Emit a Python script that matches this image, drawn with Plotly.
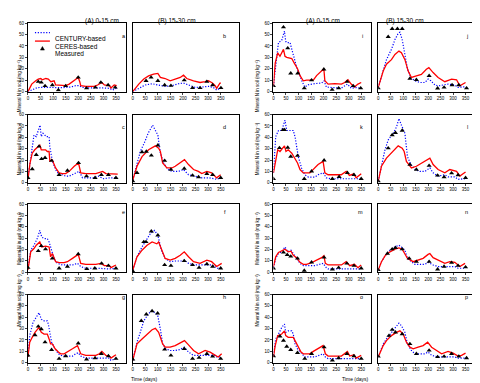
import plotly.graph_objects as go

W, H = 480, 383

# ---------------- data (day, mineral N mg/kg) ----------------
ceres_a = [(0,0),(15,6.6),(31,9.5),(41,11),(51,11.5),(57,10.4),(71,11.5),(81,11),(91,8.7),(104,9.5),(110,5.8),(130,5.2),(150,5.2),(164,6.6),(184,9.5),(200,12.4),(206,8.7),(210,5.2),(230,4.6),(264,4.6),(277,5.8),(294,8),(304,5.8),(324,5.2),(330,3.2),(343,5.8),(353,5.2)]
century_a = [(0,0),(17,1.7),(37,3.5),(57,3.7),(84,3.5),(110,3.7),(137,3.5),(170,4),(190,5.2),(204,5.2),(217,3.7),(244,3.2),(270,3.5),(297,3.2),(324,2.9),(337,1.4),(353,3.2)]
meas_a = [(41,8.7),(53,8),(68,5),(97,5.8),(121,1.4),(150,5),(200,12.4),(233,3),(268,3.7),(290,8),(319,5.8),(347,3.7)]

ceres_b = [(0,0),(24,6.6),(44,11),(63,13.8),(83,15.3),(100,15.9),(110,12.4),(129,11.5),(149,9.5),(169,11),(189,12.4),(202,14.4),(215,11.5),(242,9.5),(268,8),(288,8.7),(301,9.5),(317,7.5),(328,5.2),(334,2.9),(347,7.5),(351,7.5)]
century_b = [(0,0),(30,3.7),(50,5.8),(77,6.9),(103,5.8),(129,4.6),(156,5.2),(182,6.9),(202,7.5),(222,5.8),(248,3.7),(275,4),(301,4.6),(321,3.7),(334,1.4),(350,3.2)]
meas_b = [(53,9.5),(73,12.4),(100,9.5),(127,5.8),(152,5.2),(205,10),(238,3.2),(268,3.2),(295,8.7),(318,5.8),(351,3.2)]

ceres_c = [(0,3),(8,17),(17,26),(27,29),(47,33),(53,29),(70,29),(77,27.5),(84,27.5),(87,19),(97,20),(110,13),(124,8.7),(137,8),(150,8),(164,10),(184,14.5),(201,17.4),(210,8.7),(230,8),(270,8),(297,10),(310,8),(323,8),(357,7.5)]
century_c = [(0,4.3),(15,26),(24,42),(33,40.6),(48,50.7),(53,40.6),(60,43.5),(73,40.6),(84,40.6),(87,32),(97,19),(110,11.6),(124,7),(137,7),(150,5.8),(164,5.8),(190,8.7),(204,10),(217,4.3),(260,4.3),(280,5.8),(300,3.5),(324,4.3),(355,4.3)]
meas_c = [(0,4.3),(17,12),(33,24.6),(44,32),(54,21),(68,22),(94,19.4),(124,7),(157,10.7),(201,17.4),(233,5.8),(267,4.3),(292,7),(320,7),(350,4.3)]

ceres_d = [(0,2.3),(17,14.5),(37,23),(63,29),(90,32.5),(103,30.4),(110,27.5),(119,17.4),(136,13),(156,13),(169,14.5),(189,17.4),(206,20.3),(222,16),(242,11.6),(261,10),(275,8),(295,10),(314,8.7),(334,4.3),(350,7)]
century_d = [(0,2.3),(17,16),(30,27.5),(48,36),(61,43.5),(79,50.7),(92,46),(100,42),(110,26),(123,17.4),(140,11.6),(156,10),(182,10),(202,11.6),(222,7),(248,5.8),(275,4.3),(305,4.3),(334,3),(350,4.3)]
meas_d = [(0,1.5),(17,8.7),(37,27),(54,27.5),(74,24),(100,33),(127,19.4),(152,11.6),(205,12.5),(238,6.4),(262,5),(295,7.8),(318,7),(350,4.3)]

ceres_e = [(0,2),(11,18),(24,20.9),(33,23.8),(47,26.7),(55,22.3),(70,23),(84,22.3),(90,13.6),(97,16.5),(110,9.3),(124,8.4),(144,8.4),(157,9.3),(177,12.2),(200,15.7),(210,7.8),(230,7),(270,7),(290,7.8),(304,5.8),(324,5.8),(330,4),(350,6.4)]
century_e = [(0,3.5),(11,19.4),(24,23.8),(37,29.6),(47,36.8),(55,31),(64,29.6),(77,29.6),(84,26.7),(93,19.4),(104,12),(117,7.8),(137,6.4),(177,6.4),(197,7.8),(210,5),(230,3.5),(280,3.5),(320,2.9),(355,3.5)]
meas_e = [(0,4),(41,18.8),(53,23.2),(70,20.3),(97,12.2),(124,3.5),(157,5),(200,16),(234,2.9),(266,3.5),(293,7.8),(320,5.8),(350,3.5)]

ceres_f = [(0,2),(17,13.6),(37,19.4),(57,23.8),(77,26.7),(96,25),(103,26.7),(116,19.4),(129,12.2),(149,10.7),(169,12.2),(189,15),(205,18),(222,13.6),(242,9.3),(268,7.8),(295,10.7),(314,9.3),(334,5),(354,7.8)]
century_f = [(0,2),(17,13.6),(37,22.3),(53,28),(70,34),(87,36.8),(100,32.5),(114,19.4),(129,12.2),(149,9.3),(169,9.9),(195,9.9),(205,10.7),(222,7.8),(248,6.4),(316,6.4),(338,3.5),(354,4)]
meas_f = [(0,1),(44,26.7),(53,26.7),(74,36),(100,32.5),(127,6.4),(152,5.8),(205,9.9),(238,6.4),(264,4),(295,7.2),(318,5),(350,3.5)]

ceres_g = [(0,5),(7,18),(17,22.3),(28,26.7),(44,31),(53,26.7),(64,25.2),(77,25.2),(84,20.9),(90,16.5),(97,16.5),(108,12.2),(121,9.3),(130,7.8),(144,7.8),(157,9.3),(177,12.2),(197,15),(210,7.8),(230,6.4),(270,6.4),(284,7.8),(294,9.9),(310,6.4),(324,5.8),(330,4),(350,7)]
century_g = [(0,5),(7,23.8),(20,35.4),(28,38.3),(44,44),(53,38.3),(64,36.8),(77,36.8),(81,34),(87,26.7),(94,18),(108,12.2),(121,7.8),(137,5.8),(177,5.8),(190,7.8),(200,8.7),(210,5.8),(230,4),(324,4),(330,2),(350,3.5)]
meas_g = [(0,6.4),(28,24.3),(41,31.9),(53,29.6),(68,18),(94,11.3),(124,3.5),(150,5.8),(200,17),(233,2.9),(267,4),(292,7.8),(320,5.8),(350,3.5)]

ceres_h = [(0,2),(17,16.5),(37,20.9),(57,25.2),(77,29),(90,30.2),(103,26.7),(110,22.3),(119,16.5),(129,13.6),(149,13.6),(169,15),(189,17.4),(206,19.4),(222,15.7),(242,10.7),(262,7.8),(288,10.7),(308,9.3),(328,6.4),(340,5),(354,7.8)]
century_h = [(0,2),(17,18),(30,26.7),(44,36.8),(61,42.6),(74,45.5),(90,44),(100,41),(110,29.5),(119,16.5),(132,12.2),(149,10.7),(169,10.7),(189,11.6),(205,13.6),(222,9.3),(242,6.4),(327,6.4),(334,5),(354,5)]
meas_h = [(0,2.9),(34,36.8),(54,42.6),(77,45.5),(99,43.5),(127,11.6),(152,6.4),(205,12.2),(238,3.5),(264,4.4),(295,7.8),(318,5.5),(350,3.5)]

ceres_i = [(0,5),(7,25),(17,34),(26,31),(40,37),(46,31),(53,30),(73,29),(83,25),(96,20),(106,14),(119,9.5),(132,10),(159,10),(172,14),(192,18),(201,20),(205,9.5),(218,6.6),(245,7),(271,6.6),(284,8),(297,10.4),(310,6.6),(323,4),(337,6.6),(350,8)]
century_i = [(0,5),(20,43),(33,45),(44,53),(49,44),(53,43),(66,43),(73,37),(83,27),(93,21),(99,18),(112,10),(125,4),(139,6),(165,7),(192,7.5),(202,9.5),(211,4),(240,3.5),(270,3),(295,6.6),(310,3),(330,3.5),(350,3)]
meas_i = [(0,5),(40,56.5),(57,38),(69,16),(97,16),(123,3),(152,10),(201,19.6),(234,1.7),(260,3),(294,8.7),(318,5),(348,3)]

ceres_j = [(0,3.7),(20,18),(33,24),(53,28),(67,32.6),(83,35.5),(93,34),(107,28),(120,18),(133,12.4),(153,13.8),(173,15),(193,19.6),(203,21),(220,16.7),(240,12.4),(267,8.7),(294,11),(314,10.4),(327,5),(350,8)]
century_j = [(0,3.7),(20,18),(33,28),(53,37),(67,45.6),(80,51),(87,52),(96,45.6),(107,31),(117,20),(131,12.4),(147,9.5),(167,8),(187,8),(200,11),(211,9.5),(227,5.8),(240,5),(280,6.6),(307,5.8),(320,3.7),(348,4.3)]
meas_j = [(0,3),(40,48),(56,55),(77,55),(96,55),(127,11.5),(153,10.4),(204,13.8),(238,2.9),(264,3.7),(296,5.8),(323,5.8),(354,3)]

ceres_k = [(0,8.7),(7,16),(17,29),(26,27.5),(44,32.5),(50,27.5),(59,29),(73,26),(86,21.7),(96,17.4),(106,11.6),(119,8.7),(145,8.7),(159,11.6),(178,16),(198,18.8),(205,8.7),(218,7),(270,7),(290,10),(303,6.4),(320,7.8),(330,4.3),(350,8)]
century_k = [(0,8.7),(9,40.6),(20,46),(33,46),(46,55),(53,46),(79,46),(86,40.6),(99,23),(112,13),(125,7),(139,5),(165,5),(178,7),(198,8.7),(211,4.3),(230,3.5),(300,3.5),(350,3.5)]
meas_k = [(0,3.5),(24,30.7),(38,46.5),(44,46.5),(57,31),(69,23),(96,23.8),(123,3.5),(152,10),(202,19.7),(235,3.5),(262,5.2),(295,8.7),(321,7),(350,3.5)]

ceres_l = [(0,1.5),(13,14.5),(33,21.7),(53,26),(67,29),(80,32.5),(96,30.4),(104,27.5),(113,18.8),(133,13),(153,14.5),(173,17.4),(193,20.3),(207,21.7),(220,16),(240,11.6),(267,8.7),(287,11.6),(314,10),(327,5.8),(350,9.5)]
century_l = [(0,1.5),(13,16),(27,29),(40,37.7),(60,43.5),(73,49),(83,56.5),(93,50.7),(107,43.5),(117,23),(131,16),(147,11.6),(167,10),(187,10),(207,13),(220,8.7),(240,5.8),(267,7),(280,5.2),(307,5.2),(320,3),(348,3.5)]
meas_l = [(0,1.5),(40,30.4),(56,42),(69,44),(96,46),(127,16),(153,11.6),(204,15),(238,6.4),(264,5),(294,8.4),(320,6.7),(350,4.3)]

ceres_m = [(0,5),(9,13.6),(20,17.4),(33,18.5),(46,20.3),(59,18),(70,18.5),(79,15),(92,12.8),(106,8.7),(119,7),(132,7),(152,8.4),(172,10.7),(192,12.8),(201,14.5),(207,7.8),(218,6.4),(271,6.4),(290,9.3),(304,5.8),(323,7),(337,4),(350,6.4)]
century_m = [(0,4),(9,12.2),(20,16.5),(33,18),(46,22.3),(57,18),(70,19.4),(79,16.5),(92,12.2),(106,7.8),(119,5.8),(165,5.8),(185,7),(198,7.8),(211,4),(218,2.9),(350,2.9)]
meas_m = [(0,3.5),(40,17.4),(55,15.4),(69,13.9),(96,12.2),(123,1.5),(152,8.7),(202,13),(235,2.6),(260,4),(293,7.8),(321,5.8),(350,3.5)]

ceres_n = [(0,2),(13,9.3),(29,15),(47,18),(67,20.3),(83,21.5),(96,20.3),(107,16.5),(117,12.2),(140,9.3),(160,10.7),(180,12.2),(200,15.7),(207,16.5),(220,12.8),(247,9.9),(267,7.8),(287,9.3),(307,8.7),(327,5),(348,7.8)]
century_n = [(0,2),(13,9.3),(29,15),(47,19.4),(67,22.3),(83,23.8),(93,22.3),(107,19.4),(117,12.2),(133,9.3),(147,7),(187,7),(200,8.7),(220,6.4),(240,5),(307,5),(320,3.5),(348,3.5)]
meas_n = [(0,2),(37,16.5),(56,20.3),(69,21.5),(96,20.3),(124,12.2),(153,9.3),(204,9.3),(238,2.6),(264,5),(294,8.4),(320,5.8),(350,4.4)]

ceres_o = [(0,5),(7,15),(17,23.8),(33,25.2),(44,28),(49,23.8),(59,22.3),(79,22.3),(86,19.4),(96,15),(110,9.3),(119,7.8),(145,7.8),(159,9.9),(181,12.8),(198,15),(207,7.8),(218,5.8),(271,5.8),(284,7.8),(295,9.9),(304,5.8),(321,7),(330,4),(350,6.4)]
century_o = [(0,6.4),(9,20.9),(17,23.8),(33,31),(44,34),(49,26.7),(59,28),(73,28),(79,25.2),(86,16.5),(96,12.2),(112,7.8),(125,5),(165,5),(185,6.4),(198,7.8),(207,5),(218,3.5),(350,3.5)]
meas_o = [(0,5.8),(26,23.2),(40,19.4),(53,14.2),(69,11.3),(96,8.7),(125,3.5),(152,7.8),(202,13.6),(235,2),(260,4),(293,7.8),(321,5.8),(350,3.5)]

ceres_p = [(0,5),(20,15),(33,19.4),(53,23.8),(73,26.7),(87,28),(100,25.2),(113,18),(127,13.6),(140,12.2),(160,13.6),(180,15),(198,18),(214,13.6),(234,10.7),(254,7.8),(280,9.9),(300,8.4),(320,5.8),(334,6.4),(350,8.4)]
century_p = [(0,5),(20,16.5),(33,20.9),(53,26.7),(73,32.5),(83,34.8),(93,32.5),(107,26.7),(117,16.5),(133,10.7),(147,7.8),(187,7.8),(200,9.3),(214,6.4),(240,5),(307,5),(320,4),(348,4)]
meas_p = [(0,5.5),(43,23.8),(56,29),(69,26.7),(96,25.2),(127,16.5),(153,7.8),(204,10.7),(238,5),(264,5.5),(294,7.8),(323,5.5),(354,4)]

x_ticks = [0, 50, 100, 150, 200, 250, 300, 350]
y_ticks = [0, 10, 20, 30, 40, 50, 60]
group_titles = ["(A) 0-15 cm", "(B) 15-30 cm"]
y_title = "Mineral N in soil (mg kg\u207b\u00b9)"
x_title = "Time (days)"
series_names = ["CENTURY-based", "CERES-based", "Measured"]

# ---------------- layout geometry (pixels) ----------------
cols = [(19, 117.5, 391), (124, 230.5, 423), (265, 363, 390), (370, 468, 392)]
rows = [(13.3, 82.7), (106, 175), (196.7, 265.7), (288.3, 357.3)]

panel_data = {
    'a': (ceres_a, century_a, meas_a), 'b': (ceres_b, century_b, meas_b),
    'c': (ceres_c, century_c, meas_c), 'd': (ceres_d, century_d, meas_d),
    'e': (ceres_e, century_e, meas_e), 'f': (ceres_f, century_f, meas_f),
    'g': (ceres_g, century_g, meas_g), 'h': (ceres_h, century_h, meas_h),
    'i': (ceres_i, century_i, meas_i), 'j': (ceres_j, century_j, meas_j),
    'k': (ceres_k, century_k, meas_k), 'l': (ceres_l, century_l, meas_l),
    'm': (ceres_m, century_m, meas_m), 'n': (ceres_n, century_n, meas_n),
    'o': (ceres_o, century_o, meas_o), 'p': (ceres_p, century_p, meas_p),
}
grid = [['a', 'b', 'i', 'j'], ['c', 'd', 'k', 'l'], ['e', 'f', 'm', 'n'], ['g', 'h', 'o', 'p']]

FONT = "Arial, Liberation Sans, DejaVu Sans, sans-serif"
DOT = "1.2px,1.6px"
fig = go.Figure()
layout = dict(width=W, height=H, margin=dict(l=0, r=0, t=0, b=0),
              paper_bgcolor="white", plot_bgcolor="white", showlegend=False,
              font=dict(family=FONT, color="black"))
annotations = []
shapes = []

k = 0
for r, rowl in enumerate(grid):
    for c, letter in enumerate(rowl):
        k += 1
        x0, x1, xmax = cols[c]
        ytop, ybot = rows[r]
        xa = f"x{k}" if k > 1 else "x"
        ya = f"y{k}" if k > 1 else "y"
        xkey = f"xaxis{k}" if k > 1 else "xaxis"
        ykey = f"yaxis{k}" if k > 1 else "yaxis"
        show_y = c in (0, 2)
        layout[xkey] = dict(domain=[x0 / W, x1 / W], range=[0, xmax], anchor=ya,
                            tickvals=x_ticks, ticks="outside", ticklen=2, tickwidth=0.8,
                            tickfont=dict(size=4.5, family=FONT), showline=True, mirror=True,
                            linecolor="black", linewidth=1, showgrid=False, zeroline=False)
        layout[ykey] = dict(domain=[1 - ybot / H, 1 - ytop / H], range=[0, 60], anchor=xa,
                            tickvals=y_ticks, ticks="outside" if show_y else "", ticklen=2,
                            tickwidth=0.8, showticklabels=show_y,
                            tickfont=dict(size=4.5, family=FONT), showline=True, mirror=True,
                            linecolor="black", linewidth=1, showgrid=False, zeroline=False)
        ceres, century, meas = panel_data[letter]
        fig.add_trace(go.Scatter(x=[p[0] for p in century], y=[p[1] for p in century],
                                 mode="lines", line=dict(color="#0000ff", width=1.2, dash=DOT),
                                 xaxis=xa, yaxis=ya, name=series_names[0]))
        fig.add_trace(go.Scatter(x=[p[0] for p in ceres], y=[p[1] for p in ceres],
                                 mode="lines", line=dict(color="#ff0000", width=1.3),
                                 xaxis=xa, yaxis=ya, name=series_names[1]))
        fig.add_trace(go.Scatter(x=[p[0] for p in meas], y=[p[1] for p in meas],
                                 mode="markers", marker=dict(symbol="triangle-up", size=4.5, color="black"),
                                 xaxis=xa, yaxis=ya, name=series_names[2]))
        # panel letter, top-right inside the frame
        lx = (x0 + 366 / xmax * (x1 - x0)) / W
        ly = 1 - (ytop + 7.5) / H
        annotations.append(dict(x=lx, y=ly, xref="paper", yref="paper", text=letter, showarrow=False,
                                font=dict(size=5.5, family=FONT)))

# y-axis titles for each row (both groups)
for r, (ytop, ybot) in enumerate(rows):
    yc = 1 - (ytop + ybot) / 2 / H
    for xp in (6, 249):
        annotations.append(dict(x=xp / W, y=yc, xref="paper", yref="paper", text=y_title,
                                textangle=-90, showarrow=False, font=dict(size=4.5, family=FONT)))

# group/column titles
for xc, t in [(74.5, group_titles[0]), (168, group_titles[1]), (315, group_titles[0]), (418, group_titles[1])]:
    annotations.append(dict(x=xc / W, y=1 - 5.5 / H, xref="paper", yref="paper", text=t,
                            showarrow=False, font=dict(size=6.5, family=FONT)))

# x-axis titles
for xc in (120, 363):
    annotations.append(dict(x=xc / W, y=1 - 379 / H, xref="paper", yref="paper", text=x_title,
                            showarrow=False, font=dict(size=5, family=FONT)))

# legend (drawn inside panel a)
leg_y = [23, 31.5, 39]
shapes.append(dict(type="line", xref="paper", yref="paper", x0=26 / W, x1=41 / W,
                   y0=1 - leg_y[0] / H, y1=1 - leg_y[0] / H, line=dict(color="#0000ff", width=1.2, dash=DOT)))
shapes.append(dict(type="line", xref="paper", yref="paper", x0=26 / W, x1=41 / W,
                   y0=1 - leg_y[1] / H, y1=1 - leg_y[1] / H, line=dict(color="#ff0000", width=1.3)))
tx, ty = 33.5, leg_y[2]
shapes.append(dict(type="path", xref="paper", yref="paper",
                   path=f"M {(tx-2)/W},{1-(ty+1.6)/H} L {(tx+2)/W},{1-(ty+1.6)/H} L {tx/W},{1-(ty-2)/H} Z",
                   fillcolor="black", line=dict(color="black", width=0.5)))
for yy, name in zip(leg_y, series_names):
    annotations.append(dict(x=44 / W, y=1 - yy / H, xref="paper", yref="paper", text=name,
                            xanchor="left", showarrow=False, font=dict(size=6.5, family=FONT)))

layout["annotations"] = annotations
layout["shapes"] = shapes
fig.update_layout(**layout)
fig.write_html("out.html")
